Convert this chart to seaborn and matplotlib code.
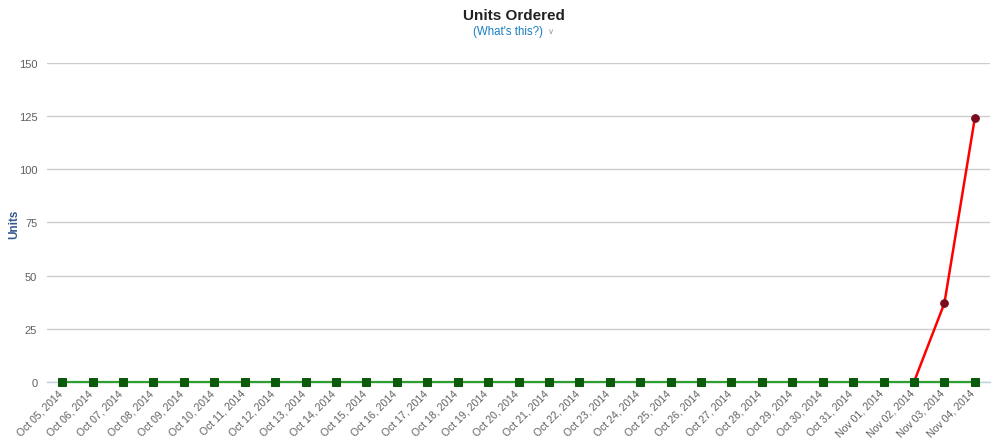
import matplotlib
matplotlib.use("Agg")
import matplotlib.pyplot as plt
import matplotlib.transforms as mtransforms
import seaborn as sns
import pandas as pd
import numpy as np

dates = ["Oct 05, 2014", "Oct 06, 2014", "Oct 07, 2014", "Oct 08, 2014", "Oct 09, 2014",
         "Oct 10, 2014", "Oct 11, 2014", "Oct 12, 2014", "Oct 13, 2014", "Oct 14, 2014",
         "Oct 15, 2014", "Oct 16, 2014", "Oct 17, 2014", "Oct 18, 2014", "Oct 19, 2014",
         "Oct 20, 2014", "Oct 21, 2014", "Oct 22, 2014", "Oct 23, 2014", "Oct 24, 2014",
         "Oct 25, 2014", "Oct 26, 2014", "Oct 27, 2014", "Oct 28, 2014", "Oct 29, 2014",
         "Oct 30, 2014", "Oct 31, 2014", "Nov 01, 2014", "Nov 02, 2014", "Nov 03, 2014",
         "Nov 04, 2014"]
baseline_units = [0] * 31
recent_units = [None] * 28 + [0, 37, 124]
yticks = [0, 25, 50, 75, 100, 125, 150]

sns.set_theme(style="white")
plt.rcParams['font.family'] = ['Liberation Sans', 'DejaVu Sans']

fig = plt.figure(figsize=(10, 4.39), dpi=100)
ax = fig.add_axes([0.047, 0.1276, 0.943, 0.7266])

x = np.arange(len(dates))
df_base = pd.DataFrame({"x": x, "units": baseline_units})
df_recent = pd.DataFrame({"x": x, "units": [np.nan if v is None else v for v in recent_units]}).dropna()

sns.lineplot(data=df_recent, x="x", y="units", ax=ax, color="#ff0000", lw=1.8,
             marker="o", markersize=5.5, markerfacecolor="#7a0a1e",
             markeredgecolor="#7a0a1e", zorder=3)
sns.lineplot(data=df_base, x="x", y="units", ax=ax, color="#2e9e2e", lw=1.6,
             marker="s", markersize=5.5, markerfacecolor="#0b5a0b",
             markeredgecolor="#0b5a0b", zorder=4, clip_on=False)

ax.set_xlim(-0.5, len(dates) - 0.5)
ax.set_ylim(0, 150)
ax.set_yticks(yticks)
ax.set_yticklabels([str(v) for v in yticks], fontsize=8, color="#606060")
ax.yaxis.grid(True, color="#cccccc", lw=1)
ax.set_axisbelow(True)
ax.tick_params(axis="y", length=0, pad=7)

ax.set_xticks(x)
ax.set_xticklabels(dates, rotation=45, ha="right", va="top", rotation_mode="anchor",
                   fontsize=7.6, color="#606060")
ax.set_xticks(np.arange(-0.5, len(dates), 1), minor=True)
ax.tick_params(axis="x", which="major", length=0, pad=4)
ax.tick_params(axis="x", which="minor", length=5, color="#c0d0e0", width=1)
shift = mtransforms.ScaledTranslation(-5 / 100, 0, fig.dpi_scale_trans)
for lbl in ax.get_xticklabels():
    lbl.set_transform(lbl.get_transform() + shift)

for s in ["top", "right", "left"]:
    ax.spines[s].set_visible(False)
ax.spines["bottom"].set_color("#c0d0e0")
ax.spines["bottom"].set_linewidth(1)

ax.set_xlabel("")
ax.set_ylabel("")
fig.text(0.014, 0.49, "Units", rotation=90, ha="center", va="center",
         fontsize=8.5, fontweight="bold", color="#34598c")

fig.text(0.5135, 0.963, "Units Ordered", ha="center", va="center",
         fontsize=11, fontweight="bold", color="#222222")
fig.text(0.508, 0.926, "(What's this?)", ha="center", va="center",
         fontsize=8.3, color="#1a7fc1")
fig.text(0.551, 0.928, "∨", ha="center", va="center",
         fontsize=6, color="#999999", family="DejaVu Sans")

fig.savefig("out.png", dpi=100, facecolor="white")
